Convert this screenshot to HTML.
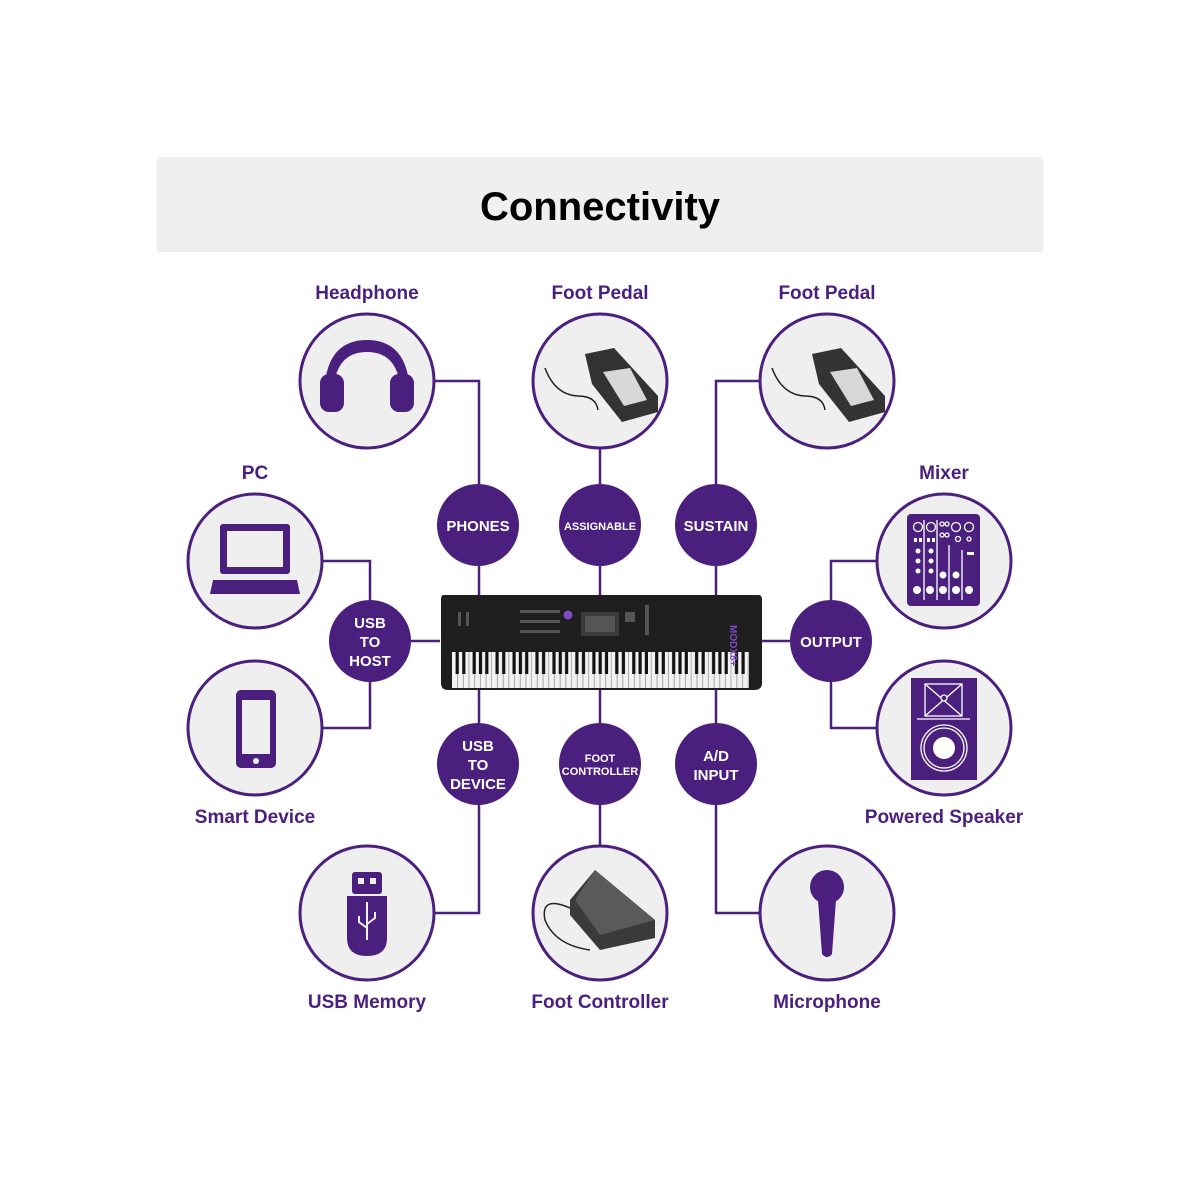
<!DOCTYPE html>
<html><head><style>
body{margin:0;background:#fff;}
svg{display:block;}
text{font-family:"Liberation Sans",sans-serif;font-weight:bold;}
</style></head><body>
<svg width="1200" height="1200" viewBox="0 0 1200 1200" xmlns="http://www.w3.org/2000/svg">
<defs>
<pattern id="keys" x="452" y="652" width="39.9" height="36" patternUnits="userSpaceOnUse">
<rect width="39.9" height="36" fill="#f2f2f2"/>
<g fill="#888"><rect x="5.2" width="0.7" height="36"/><rect x="10.9" width="0.7" height="36"/><rect x="16.6" width="0.7" height="36"/><rect x="22.3" width="0.7" height="36"/><rect x="28" width="0.7" height="36"/><rect x="33.7" width="0.7" height="36"/><rect x="39.3" width="0.7" height="36"/></g>
<g fill="#111"><rect x="3.6" width="3.2" height="22"/><rect x="10.2" width="3.2" height="22"/><rect x="20.6" width="3.2" height="22"/><rect x="26.9" width="3.2" height="22"/><rect x="33.2" width="3.2" height="22"/></g>
</pattern>
</defs>
<rect width="1200" height="1200" fill="#fff"/>
<rect x="157" y="157" width="886" height="95" fill="#efefef"/>
<text x="600" y="220" font-size="40" text-anchor="middle" fill="#000">Connectivity</text>

<g stroke="#4b1f7e" stroke-width="2.5" fill="none">
<polyline points="435,381 479,381 479,595"/>
<line x1="600" y1="449" x2="600" y2="595"/>
<polyline points="759,381 716,381 716,595"/>
<polyline points="323,561 370,561 370,728 323,728"/>
<line x1="411" y1="641" x2="440" y2="641"/>
<line x1="762" y1="641" x2="790" y2="641"/>
<polyline points="876,561 831,561 831,728 876,728"/>
<polyline points="479,690 479,913 435,913"/>
<line x1="600" y1="690" x2="600" y2="845"/>
<polyline points="716,690 716,913 759,913"/>
</g>

<g fill="#efefef" stroke="#4b1f7e" stroke-width="3">
<circle cx="367" cy="381" r="67"/>
<circle cx="600" cy="381" r="67"/>
<circle cx="827" cy="381" r="67"/>
<circle cx="255" cy="561" r="67"/>
<circle cx="944" cy="561" r="67"/>
<circle cx="255" cy="728" r="67"/>
<circle cx="944" cy="728" r="67"/>
<circle cx="367" cy="913" r="67"/>
<circle cx="600" cy="913" r="67"/>
<circle cx="827" cy="913" r="67"/>
</g>

<g fill="#4b1f7e">
<circle cx="478" cy="525" r="41"/>
<circle cx="600" cy="525" r="41"/>
<circle cx="716" cy="525" r="41"/>
<circle cx="370" cy="641" r="41"/>
<circle cx="831" cy="641" r="41"/>
<circle cx="478" cy="764" r="41"/>
<circle cx="600" cy="764" r="41"/>
<circle cx="716" cy="764" r="41"/>
</g>
<g fill="#fff" text-anchor="middle">
<text x="478" y="531" font-size="15">PHONES</text>
<text x="600" y="530" font-size="11">ASSIGNABLE</text>
<text x="716" y="531" font-size="15">SUSTAIN</text>
<text x="370" y="628" font-size="15">USB</text>
<text x="370" y="647" font-size="15">TO</text>
<text x="370" y="666" font-size="15">HOST</text>
<text x="831" y="647" font-size="15">OUTPUT</text>
<text x="478" y="751" font-size="15">USB</text>
<text x="478" y="770" font-size="15">TO</text>
<text x="478" y="789" font-size="15">DEVICE</text>
<text x="600" y="762" font-size="11">FOOT</text>
<text x="600" y="775" font-size="11">CONTROLLER</text>
<text x="716" y="761" font-size="15">A/D</text>
<text x="716" y="780" font-size="15">INPUT</text>
</g>

<g fill="#4b1f7e" font-size="19" text-anchor="middle">
<text x="367" y="299">Headphone</text>
<text x="600" y="299">Foot Pedal</text>
<text x="827" y="299">Foot Pedal</text>
<text x="255" y="479">PC</text>
<text x="944" y="479">Mixer</text>
<text x="255" y="823">Smart Device</text>
<text x="944" y="823">Powered Speaker</text>
<text x="367" y="1008">USB Memory</text>
<text x="600" y="1008">Foot Controller</text>
<text x="827" y="1008">Microphone</text>
</g>

<!-- keyboard -->
<path d="M443,595 L759,595 Q762,595 762,600 L762,683 Q762,690 754,690 L448,690 Q441,690 441,683 L441,600 Q441,595 443,595 Z" fill="#1e1e1e"/>
<rect x="452" y="652" width="297" height="36" fill="url(#keys)"/>
<rect x="581" y="612" width="38" height="24" fill="#3a3a3a"/>
<rect x="585" y="616" width="30" height="16" fill="#555"/>
<circle cx="568" cy="615" r="4.5" fill="#7a4bc2"/>
<g fill="#555">
<rect x="458" y="612" width="3" height="14"/><rect x="466" y="612" width="3" height="14"/>
<rect x="520" y="610" width="40" height="3"/><rect x="520" y="620" width="40" height="3"/><rect x="520" y="630" width="40" height="3"/>
<rect x="625" y="612" width="10" height="10"/><rect x="645" y="605" width="4" height="30"/>
</g>
<text x="745" y="640" font-size="10" fill="#7a4bc2" transform="rotate(90 745 625)">MODX8+</text>

<!-- headphone -->
<g fill="#4b1f7e">
<path d="M324,398 Q324,340 367,340 Q410,340 410,398 L401,398 Q401,352 367,352 Q333,352 333,398 Z"/>
<rect x="320" y="374" width="24" height="38" rx="9"/>
<rect x="390" y="374" width="24" height="38" rx="9"/>
</g>
<!-- pedals -->
<g>
<path d="M585,354 L614,348 L658,396 L658,412 L622,422 L592,384 Z" fill="#333"/>
<path d="M603,372 L630,368 L647,400 L624,406 Z" fill="#d8d8d8"/>
<path d="M545,368 Q555,395 578,396 Q596,396 598,410" stroke="#222" stroke-width="1.5" fill="none"/>
<path d="M812,354 L841,348 L885,396 L885,412 L849,422 L819,384 Z" fill="#333"/>
<path d="M830,372 L857,368 L874,400 L851,406 Z" fill="#d8d8d8"/>
<path d="M772,368 Q782,395 805,396 Q823,396 825,410" stroke="#222" stroke-width="1.5" fill="none"/>
</g>
<!-- laptop -->
<g fill="#4b1f7e">
<rect x="220" y="524" width="70" height="50" rx="3"/>
<rect x="227" y="531" width="56" height="36" fill="#efefef"/>
<path d="M213,580 L297,580 L300,594 L210,594 Z"/>
</g>
<!-- phone -->
<g fill="#4b1f7e">
<rect x="236" y="690" width="40" height="78" rx="5"/>
<rect x="242" y="700" width="28" height="54" fill="#efefef"/>
<circle cx="256" cy="761" r="3" fill="#efefef"/>
</g>
<!-- mixer -->
<g>
<rect x="907" y="514" width="73" height="92" rx="4" fill="#4b1f7e"/>
<g stroke="#fff" stroke-width="1.3" fill="none">
<circle cx="918" cy="527" r="4.5"/><circle cx="931" cy="527" r="4.5"/><circle cx="956" cy="527" r="4.5"/><circle cx="969" cy="527" r="4.5"/>
<circle cx="942" cy="524" r="2"/><circle cx="947" cy="524" r="2"/><circle cx="942" cy="535" r="2"/><circle cx="947" cy="535" r="2"/><circle cx="958" cy="539" r="2.5"/><circle cx="969" cy="539" r="2"/>
<line x1="924" y1="520" x2="924" y2="600"/><line x1="937" y1="520" x2="937" y2="600"/><line x1="949" y1="545" x2="949" y2="600"/><line x1="962" y1="550" x2="962" y2="600"/>
</g>
<g fill="#fff">
<circle cx="917" cy="590" r="4"/><circle cx="930" cy="590" r="4"/><circle cx="943" cy="590" r="4"/><circle cx="956" cy="590" r="4"/><circle cx="969" cy="590" r="4"/>
<circle cx="918" cy="551" r="2.5"/><circle cx="931" cy="551" r="2.5"/><circle cx="918" cy="561" r="2.5"/><circle cx="931" cy="561" r="2.5"/><circle cx="918" cy="571" r="2.5"/><circle cx="931" cy="571" r="2.5"/>
<rect x="914" y="538" width="3" height="4"/><rect x="919" y="538" width="3" height="4"/><rect x="927" y="538" width="3" height="4"/><rect x="932" y="538" width="3" height="4"/>
<circle cx="943" cy="575" r="3.5"/><circle cx="956" cy="575" r="3.5"/>
<rect x="967" y="552" width="7" height="3"/>
</g>
</g>
<!-- speaker -->
<g>
<rect x="911" y="678" width="66" height="102" fill="#4b1f7e"/>
<g stroke="#fff" stroke-width="1.3" fill="none">
<rect x="925" y="684" width="37" height="32"/>
<line x1="925" y1="684" x2="962" y2="716"/><line x1="962" y1="684" x2="925" y2="716"/>
<line x1="917" y1="719" x2="970" y2="719"/>
<circle cx="944" cy="748" r="23"/><circle cx="944" cy="748" r="20"/>
</g>
<circle cx="944" cy="748" r="11" fill="#fff"/>
<circle cx="944" cy="698" r="3" fill="#4b1f7e" stroke="#fff" stroke-width="1.3"/>
</g>
<!-- usb -->
<g fill="#4b1f7e">
<rect x="352" y="872" width="30" height="22" rx="3"/>
<rect x="358" y="878" width="6" height="6" fill="#efefef"/><rect x="370" y="878" width="6" height="6" fill="#efefef"/>
<path d="M347,896 h40 v42 q0,18 -20,18 q-20,0 -20,-18 z"/>
<g stroke="#efefef" stroke-width="2" fill="none"><line x1="367" y1="902" x2="367" y2="940"/><path d="M359,916 v6 l8,6 M375,912 v6 l-8,6"/></g>
</g>
<!-- foot controller -->
<g>
<path d="M570,900 L595,870 L655,920 L655,938 L600,950 L570,915 Z" fill="#3a3a3a"/>
<path d="M595,870 L655,920 L600,935 L575,900 Z" fill="#5a5a5a"/>
<path d="M570,908 Q540,895 545,920 Q555,945 590,950" stroke="#222" stroke-width="1.5" fill="none"/>
</g>
<!-- mic -->
<g fill="#4b1f7e">
<circle cx="827" cy="887" r="17"/>
<path d="M818,900 h18 l-4,54 q-5,6 -10,0 z"/>
</g>
</svg>
</body></html>
